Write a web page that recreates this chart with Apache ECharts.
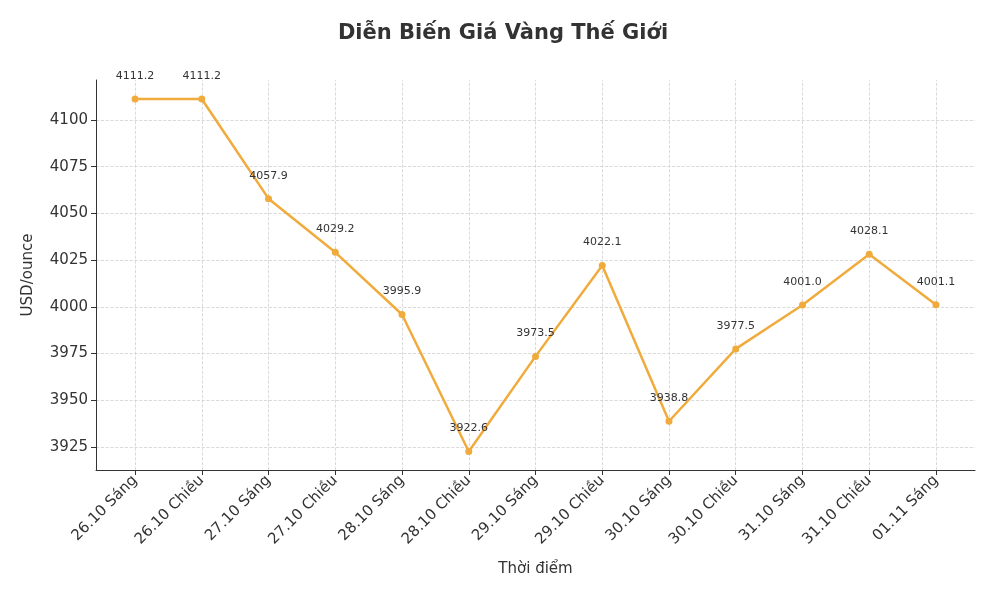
<!DOCTYPE html>
<html>
<head>
<meta charset="utf-8">
<script src="https://cdn.jsdelivr.net/npm/echarts@6/dist/echarts.min.js"></script>
<style>html,body{margin:0;background:#fff}#chart{width:1006px;height:598px}</style>
</head>
<body>
<div id="chart"></div>
<script>
var categories = ['26.10 Sáng', '26.10 Chiều', '27.10 Sáng', '27.10 Chiều', '28.10 Sáng', '28.10 Chiều',
    '29.10 Sáng', '29.10 Chiều', '30.10 Sáng', '30.10 Chiều', '31.10 Sáng', '31.10 Chiều', '01.11 Sáng'];
var prices = [4111.2, 4111.2, 4057.9, 4029.2, 3995.9, 3922.6, 3973.5, 4022.1, 3938.8, 3977.5, 4001.0, 4028.1, 4001.1];
var yTicks = [3925, 3950, 3975, 4000, 4025, 4050, 4075, 4100];

var xIdx = categories.map(function (c, i) { return i; });
var gridStyle = { color: '#d0d0d0', type: 'dashed', width: 0.8 };

var myChart = echarts.init(document.getElementById('chart'));
var option = {
    animation: false,
    title: {
        text: 'Diễn Biến Giá Vàng Thế Giới', left: 'center', top: 18,
        textStyle: { fontFamily: 'DejaVu Sans', fontSize: 21, fontWeight: 'bold', color: '#333' }
    },
    grid: { left: 96, right: 31, top: 80, bottom: 128 },
    xAxis: {
        type: 'value', min: -0.585, max: 12.585,
        name: 'Thời điểm', nameLocation: 'middle', nameGap: 92,
        nameTextStyle: { fontFamily: 'DejaVu Sans', fontSize: 15, color: '#333' },
        axisLine: { onZero: false, lineStyle: { color: '#333' } },
        axisTick: { customValues: xIdx, lineStyle: { color: '#333' } },
        axisLabel: {
            customValues: xIdx, rotate: 45, fontFamily: 'DejaVu Sans', fontSize: 15, color: '#333',
            formatter: function (v) { return categories[Math.round(v)]; }
        },
        splitLine: { show: false }
    },
    yAxis: {
        type: 'value', min: 3912.7, max: 4121.4,
        name: 'USD/ounce', nameLocation: 'middle', nameGap: 60,
        nameTextStyle: { fontFamily: 'DejaVu Sans', fontSize: 15, color: '#333' },
        axisLine: { show: true, onZero: false, lineStyle: { color: '#333' } },
        axisTick: { show: true, customValues: yTicks, lineStyle: { color: '#333' } },
        axisLabel: {
            customValues: yTicks, fontFamily: 'DejaVu Sans', fontSize: 15, color: '#333',
            formatter: function (v) { return String(v); }
        },
        splitLine: { show: false }
    },
    series: [{
        type: 'line',
        data: prices.map(function (p, i) { return [i, p]; }),
        symbol: 'circle', symbolSize: 7,
        itemStyle: { color: '#f0ab3c' },
        lineStyle: { color: '#f0ab3c', width: 2.5 },
        label: {
            show: true, position: 'top', distance: 14, fontFamily: 'DejaVu Sans', fontSize: 11, color: '#333',
            formatter: function (p) { return p.value[1].toFixed(1); }
        },
        markLine: {
            silent: true, symbol: 'none', label: { show: false }, lineStyle: gridStyle, z: 0,
            data: yTicks.map(function (v) { return { yAxis: v }; })
                .concat(xIdx.map(function (v) { return { xAxis: v }; }))
        }
    }]
};
myChart.setOption(option);
</script>
</body>
</html>
